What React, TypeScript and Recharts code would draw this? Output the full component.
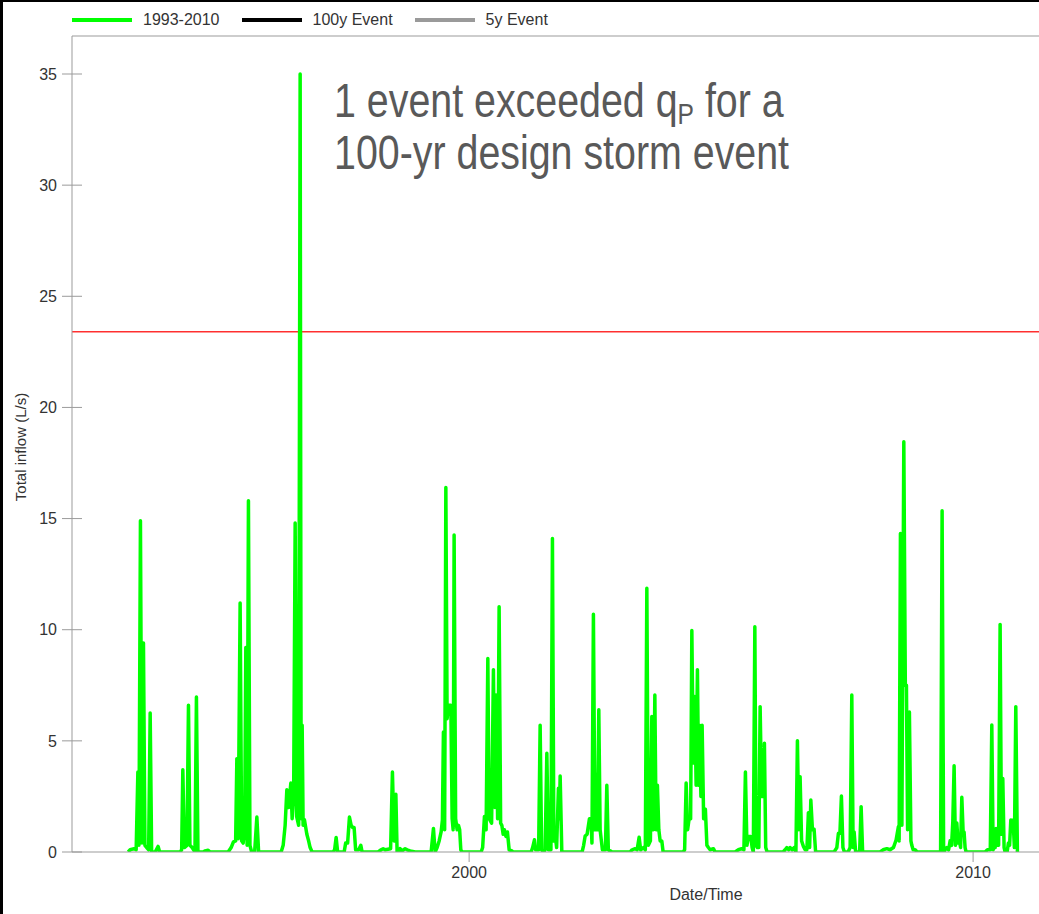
import React from 'react';
import { LineChart, Line, XAxis, YAxis, ReferenceLine } from 'recharts';

// Simulated total inflow, 1993-2010 continuous run (decimal year, L/s)
const flowDate = [
  1993.234, 1993.274, 1993.353, 1993.393, 1993.427, 1993.448, 1993.478, 1993.508, 1993.538, 1993.567,
  1993.601, 1993.641, 1993.671, 1993.7, 1993.77, 1993.829, 1993.859,
  1994.266, 1994.296, 1994.319, 1994.349, 1994.401, 1994.431, 1994.46, 1994.504, 1994.56, 1994.589,
  1994.619, 1994.722, 1994.762, 1994.821, 1994.861,
  1995.218, 1995.278, 1995.323, 1995.367, 1995.391, 1995.417, 1995.456, 1995.486, 1995.516, 1995.546,
  1995.569, 1995.595, 1995.621, 1995.651, 1995.685, 1995.744, 1995.788, 1995.823,
  1996.27, 1996.31, 1996.349, 1996.383, 1996.419, 1996.462, 1996.488, 1996.518, 1996.548, 1996.577,
  1996.617, 1996.647, 1996.667, 1996.687, 1996.706, 1996.732, 1996.78, 1996.815, 1996.845, 1996.885,
  1997.302, 1997.331, 1997.361, 1997.391, 1997.52, 1997.55, 1997.589, 1997.625, 1997.659, 1997.688,
  1997.718, 1997.748, 1997.808, 1997.851, 1997.877,
  1998.194, 1998.254, 1998.294, 1998.333, 1998.442, 1998.478, 1998.512, 1998.546, 1998.571, 1998.611,
  1998.631, 1998.671, 1998.73, 1998.77, 1998.829, 1998.929,
  1999.246, 1999.292, 1999.325, 1999.365, 1999.405, 1999.444, 1999.47, 1999.49, 1999.514, 1999.538,
  1999.563, 1999.589, 1999.637, 1999.663, 1999.683, 1999.702, 1999.732, 1999.762, 1999.788, 1999.812,
  1999.835, 1999.861,
  2000.238, 2000.268, 2000.304, 2000.337, 2000.371, 2000.397, 2000.446, 2000.482, 2000.512, 2000.536,
  2000.565, 2000.595, 2000.625, 2000.649, 2000.675, 2000.7, 2000.73, 2000.76, 2000.794, 2000.847,
  2000.873,
  2001.23, 2001.26, 2001.296, 2001.319, 2001.379, 2001.409, 2001.438, 2001.478, 2001.508, 2001.542,
  2001.573, 2001.623, 2001.653, 2001.681, 2001.706, 2001.736, 2001.772, 2001.79, 2001.806, 2001.839,
  2002.242, 2002.272, 2002.302, 2002.341, 2002.387, 2002.421, 2002.437, 2002.466, 2002.496, 2002.52,
  2002.546, 2002.573, 2002.599, 2002.619, 2002.645, 2002.704, 2002.732, 2002.762, 2002.798, 2002.837,
  2003.194, 2003.234, 2003.294, 2003.333, 2003.373, 2003.403, 2003.458, 2003.496, 2003.526, 2003.556,
  2003.597, 2003.625, 2003.655, 2003.685, 2003.71, 2003.736, 2003.764, 2003.79, 2003.823, 2003.849,
  2004.246, 2004.276, 2004.306, 2004.335, 2004.371, 2004.395, 2004.419, 2004.448, 2004.478, 2004.504,
  2004.53, 2004.554, 2004.569, 2004.599, 2004.623, 2004.653, 2004.688, 2004.718, 2004.748, 2004.782,
  2004.847, 2004.881,
  2005.278, 2005.343, 2005.407, 2005.452, 2005.482, 2005.512, 2005.542, 2005.589, 2005.615, 2005.639,
  2005.669, 2005.694, 2005.72, 2005.748, 2005.774, 2005.804, 2005.829, 2005.859, 2005.885, 2005.913,
  2006.23, 2006.27, 2006.304, 2006.339, 2006.369, 2006.409, 2006.448, 2006.484, 2006.514, 2006.542,
  2006.567, 2006.597, 2006.633, 2006.667, 2006.702, 2006.732, 2006.756, 2006.78, 2006.812, 2006.845,
  2006.875,
  2007.242, 2007.296, 2007.327, 2007.357, 2007.387, 2007.417, 2007.446, 2007.52, 2007.56, 2007.593,
  2007.619, 2007.639, 2007.669, 2007.748, 2007.778, 2007.808, 2007.877,
  2008.155, 2008.214, 2008.288, 2008.353, 2008.419, 2008.472, 2008.518, 2008.532, 2008.558, 2008.587,
  2008.625, 2008.655, 2008.677, 2008.7, 2008.736, 2008.766, 2008.784, 2008.81, 2008.849, 2008.889,
  2009.355, 2009.385, 2009.415, 2009.478, 2009.514, 2009.544, 2009.573, 2009.597, 2009.623, 2009.649,
  2009.677, 2009.702, 2009.728, 2009.752, 2009.776, 2009.802, 2009.821, 2009.841, 2009.861,
  2010.238, 2010.284, 2010.341, 2010.371, 2010.397, 2010.417, 2010.437, 2010.456, 2010.476, 2010.506,
  2010.536, 2010.562, 2010.589, 2010.615, 2010.635, 2010.675, 2010.7, 2010.724, 2010.748, 2010.774,
  2010.794, 2010.819, 2010.847, 2010.879,
];

const flowLps = [
  0, 0.1, 0.15, 0.1, 3.6, 0.3, 14.9, 0.4, 9.4, 0.3,
  0.2, 0.1, 6.25, 0, 0, 0.25, 0,
  0, 0.1, 3.7, 0.2, 0.3, 6.6, 0.3, 0.2, 0, 6.97,
  0, 0, 0.05, 0.08, 0,
  0, 0.2, 0.46, 0.5, 4.2, 0.6, 11.2, 0.5, 0.4, 1,
  9.2, 0.3, 15.8, 0.3, 0, 0, 1.57, 0,
  0, 0.3, 1.2, 2.8, 2.0, 3.1, 1.5, 2.5, 14.8, 1.6,
  1.2, 35.0, 1.5, 5.7, 1.2, 1.45, 0.8, 0.5, 0.2, 0,
  0, 0.1, 0.65, 0, 0, 0.4, 0.4, 1.57, 1.2, 1.1,
  1.1, 0.1, 0.1, 0.3, 0,
  0, 0.1, 0.15, 0.1, 0.15, 3.6, 0.5, 2.6, 0, 0,
  0.15, 0.05, 0.15, 0.1, 0.05, 0,
  0, 1.06, 0, 0.2, 0.5, 0.9, 1.44, 5.4, 1.0, 16.4,
  6.0, 6.6, 6.6, 1.5, 1.0, 14.26, 1.5, 1.0, 1.2, 1.0,
  0.1, 0,
  0, 0.2, 1.6, 1.0, 8.7, 1.5, 1.3, 8.2, 2, 7.06,
  1.5, 11.03, 1.3, 1.2, 0.8, 1.0, 0.7, 0.9, 0.1, 0.05,
  0,
  0, 0.2, 0.55, 0.1, 0.1, 5.7, 0.1, 0, 0.1, 4.44,
  0.1, 0.1, 14.1, 0.5, 0.8, 0.2, 2.87, 1.5, 3.42, 0,
  0, 0.3, 0.72, 0.8, 1.5, 1.4, 0.4, 10.7, 1.0, 3.5,
  1.0, 6.4, 1.0, 0.6, 0.1, 0.1, 3.0, 0.1, 0.05, 0,
  0, 0.1, 0.15, 0.1, 0.66, 0.1, 0.2, 0.1, 11.86, 0.3,
  0.5, 6.1, 1.0, 7.06, 1.0, 3.0, 1.0, 0.5, 0.5, 0,
  0, 0.1, 3.1, 1.0, 1.6, 1.5, 9.96, 4.0, 7.0, 3,
  8.2, 3, 5.7, 2.5, 5.7, 1.5, 1.92, 0.3, 0.2, 0.1,
  0.15, 0,
  0, 0.1, 0.15, 0.1, 3.6, 0.3, 0.7, 0.7, 0.2, 0,
  10.13, 0.3, 0.2, 0.2, 6.54, 2.5, 2.5, 4.89, 0.2, 0,
  0, 0.1, 0.2, 0.1, 0.2, 0.1, 0.2, 0, 5.0, 1.0,
  3.39, 0.5, 0.25, 0.1, 0.1, 1.77, 0.2, 2.34, 1.0, 1.02,
  0,
  0, 0.2, 0.84, 0.84, 2.52, 0.2, 0, 0, 0.2, 7.06,
  0.2, 0.9, 0, 0, 2.04, 0, 0,
  0, 0.1, 0.15, 0.1, 0.2, 0.54, 1.14, 0.5, 14.33, 1.2,
  18.46, 7.5, 7.5, 1, 6.3, 0.5, 0.3, 0.1, 0.1, 0,
  0, 15.35, 0, 0.2, 0.1, 0.5, 0.3, 1.36, 3.88, 0.3,
  1.3, 0.4, 0.5, 0.2, 2.46, 0.9, 0.9, 0.2, 0,
  0, 0.1, 0.1, 5.71, 0.1, 0.2, 0.2, 1.06, 0.3, 0.3,
  10.24, 0.8, 3.31, 0.2, 0, 0, 0.4, 0.3, 1.44, 1.2,
  1.44, 0.2, 6.54, 0,
];

const yearTicks = [2000, 2010];
const inflowTicks = [0, 5, 10, 15, 20, 25, 30, 35];
const yearDomain: [number, number] = [1992.12, 2017.28];
const inflowTop = 36.71;

// Peak flow for the 100-yr design storm
const designPeakFlow = 23.4;

const legendNames = ['1993-2010', '100y Event', '5y Event'];
const legendColors = ['#00ff00', '#000000', '#9a9a9a'];

const noteLines = ['1 event exceeded q', ' for a', '100-yr design storm event'];
const noteSubscript = 'P';

const chartData = flowDate.map((t, i) => ({ t, q: flowLps[i] }));

const AXIS_GREY = '#9b9b9b';
const TEXT_DARK = '#333333';

// Left-axis tick: short line crossing the axis plus a right-aligned label
const InflowTick = (props: any) => {
  const { x, y, payload } = props;
  const axisX = x + 15; // tickSize 10 + tickMargin 5
  return (
    <g>
      <line x1={axisX - 10} x2={axisX + 10} y1={y} y2={y} stroke={AXIS_GREY} strokeWidth={1} />
      <text x={x} y={y} dy="0.355em" textAnchor="end" fill={TEXT_DARK} fontSize={16}>
        {payload.value}
      </text>
    </g>
  );
};

const InflowTitle = (props: any) => {
  const vb = props.viewBox || { x: 0, y: 36, width: 72, height: 816 };
  const cx = vb.x + 26;
  const cy = vb.y + vb.height / 2 + 3;
  return (
    <text
      x={cx}
      y={cy}
      transform={`rotate(-90 ${cx} ${cy})`}
      textAnchor="middle"
      fill={TEXT_DARK}
      fontSize={15}
    >
      Total inflow (L/s)
    </text>
  );
};

const Legend = () => (
  <div
    style={{
      position: 'absolute',
      left: 72,
      top: 11,
      display: 'flex',
      alignItems: 'center',
      fontSize: 16,
      color: TEXT_DARK,
      lineHeight: '18px',
    }}
  >
    {legendNames.map((name, i) => (
      <div key={name} style={{ display: 'flex', alignItems: 'center', marginRight: 22 }}>
        <span
          style={{
            display: 'inline-block',
            width: 60,
            height: 4,
            background: legendColors[i],
            marginRight: 11,
          }}
        />
        <span>{name}</span>
      </div>
    ))}
  </div>
);

// Callout in a condensed face: Liberation Sans squeezed horizontally
const Note = () => (
  <div
    style={{
      position: 'absolute',
      left: 334,
      top: 75,
      fontFamily: '"Liberation Sans", Arial, sans-serif',
      fontSize: 48,
      lineHeight: '52px',
      color: '#595959',
      whiteSpace: 'pre',
      transform: 'scaleX(0.82)',
      transformOrigin: '0 0',
    }}
  >
    <div>
      {noteLines[0]}
      <span style={{ fontSize: 30, verticalAlign: '-7px', lineHeight: 0 }}>{noteSubscript}</span>
      {noteLines[1]}
    </div>
    <div>{noteLines[2]}</div>
  </div>
);

export default function App() {
  return (
    <div
      style={{
        position: 'absolute',
        left: 0,
        top: 0,
        width: 1039,
        height: 914,
        overflow: 'hidden',
        background: '#ffffff',
        fontFamily: '"Liberation Sans", Arial, sans-serif',
      }}
    >
      <div style={{ position: 'absolute', left: 0, top: 0 }}>
        <LineChart
          width={1340}
          height={914}
          data={chartData}
          margin={{ top: 36, right: 0, bottom: 0, left: 0 }}
        >
          <XAxis
            dataKey="t"
            type="number"
            domain={yearDomain}
            ticks={yearTicks}
            allowDataOverflow
            height={62}
            stroke={AXIS_GREY}
            tickSize={10}
            tickMargin={5}
            tick={{ fill: TEXT_DARK, fontSize: 16 }}
            label={{ value: 'Date/Time', position: 'insideBottom', offset: 14, fill: TEXT_DARK, fontSize: 16 }}
          />
          <YAxis
            type="number"
            domain={[0, inflowTop]}
            ticks={inflowTicks}
            allowDataOverflow
            width={72}
            stroke={AXIS_GREY}
            tickLine={false}
            tickSize={10}
            tickMargin={5}
            tick={<InflowTick />}
            label={(p: any) => <InflowTitle {...p} />}
          />
          <ReferenceLine y={inflowTop} stroke={AXIS_GREY} strokeWidth={1} />
          <ReferenceLine y={designPeakFlow} stroke="#ff3030" strokeWidth={1.5} />
          <Line
            type="linear"
            dataKey="q"
            stroke="#00ff00"
            strokeWidth={3.5}
            strokeLinejoin="round"
            dot={false}
            activeDot={false}
            isAnimationActive={false}
          />
        </LineChart>
      </div>
      <Legend />
      <Note />
      <div style={{ position: 'absolute', left: 0, top: 0, width: 3, height: 914, background: '#000' }} />
      <div style={{ position: 'absolute', left: 0, top: 0, width: 1039, height: 2, background: '#000' }} />
    </div>
  );
}
